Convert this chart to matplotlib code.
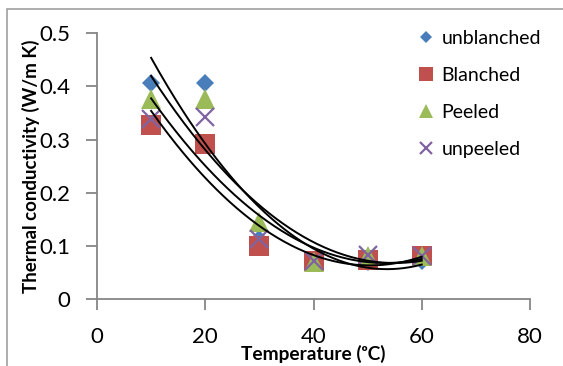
import numpy as np
import matplotlib.pyplot as plt
from matplotlib.patches import Rectangle

plt.rcParams['font.family'] = ['Lato', 'DejaVu Sans']

temps = [10, 20, 30, 40, 50, 60]
unblanched = [0.406, 0.406, 0.112, 0.072, 0.070, 0.071]
blanched = [0.328, 0.292, 0.100, 0.071, 0.073, 0.081]
peeled = [0.376, 0.376, 0.144, 0.070, 0.081, 0.081]
unpeeled = [0.338, 0.343, 0.113, 0.071, 0.082, 0.080]

# name, values, marker, colour, size (pt)
series = [
    ('unblanched', unblanched, 'D', '#4A7EBB', 9.3),
    ('Blanched', blanched, 's', '#C0504D', 14.2),
    ('Peeled', peeled, '^', '#9BBB59', 14.2),
    ('unpeeled', unpeeled, 'x', '#8064A2', 12.5),
]

W, H = 563, 366
fig = plt.figure(figsize=(W / 100, H / 100), dpi=100)
ax = fig.add_axes([97 / W, 1 - 299 / H, (530 - 97) / W, (299 - 33.3) / H])

fig.patches.append(Rectangle((7 / W, -0.1), 1.2, 1 - 9 / H + 0.1,
                             transform=fig.transFigure, fill=False,
                             edgecolor='#A0A0A0', linewidth=1.2))

for name, vals, m, c, s in series:
    if m == 'x':
        ax.plot(temps, vals, linestyle='none', marker=m, color=c, markersize=s,
                markeredgewidth=1.6, label=name, zorder=3)
    else:
        ax.plot(temps, vals, linestyle='none', marker=m, color=c, markersize=s,
                markeredgewidth=0, label=name, zorder=3)

# polynomial (order 2) trend lines
xs = np.linspace(10, 60, 200)
for name, vals, m, c, s in series:
    p = np.polyfit(temps, vals, 2)
    ax.plot(xs, np.polyval(p, xs), color='black', linewidth=1.4, zorder=4)

ax.set_xlim(0, 80)
ax.set_ylim(0, 0.5)
ax.set_xticks([0, 20, 40, 60, 80])
ax.set_yticks([0, 0.1, 0.2, 0.3, 0.4, 0.5])
ax.set_yticklabels(['0', '0.1', '0.2', '0.3', '0.4', '0.5'])
ax.tick_params(labelsize=16, color='#868686', length=8, width=1.3)
ax.tick_params(axis='y', pad=11)
ax.tick_params(axis='x', pad=12)
for side in ['top', 'right']:
    ax.spines[side].set_visible(False)
for side in ['left', 'bottom']:
    ax.spines[side].set_color('#868686')
    ax.spines[side].set_linewidth(1.3)

ax.set_xlabel('Temperature (\u1d52C)', fontsize=13.8, fontweight='bold', labelpad=-1)
ax.set_ylabel('Thermal conductivity (W/m K)', fontsize=13.5, fontweight='bold', labelpad=0)

ax.legend(loc='upper left', bbox_to_anchor=(416 / W, 1 - 30 / H),
          bbox_transform=fig.transFigure, frameon=False, borderpad=0,
          borderaxespad=0, fontsize=14, handlelength=1.0, handletextpad=0.3,
          labelspacing=1.03, markerscale=0.7)

fig.savefig('out.png', dpi=100)
